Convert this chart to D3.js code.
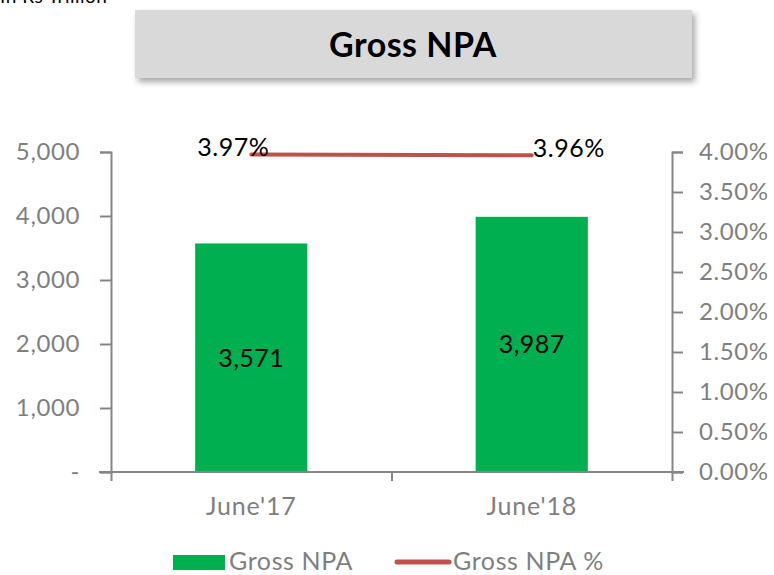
<!DOCTYPE html>
<html>
<head>
<meta charset="utf-8">
<script src="https://cdn.jsdelivr.net/npm/d3@7"></script>
<style>
  body { margin: 0; background: #fff; }
  svg { display: block; font-family: "Lato", "DejaVu Sans", sans-serif; }
</style>
</head>
<body>
<div id="chart"></div>
<script>
var categories = ["June'17", "June'18"];
var grossNpa = [3571, 3987];
var grossNpaPct = [0.0397, 0.0396];
var leftTicks = [0, 1000, 2000, 3000, 4000, 5000];
var rightTicks = [0, 0.005, 0.01, 0.015, 0.02, 0.025, 0.03, 0.035, 0.04];

var width = 774, height = 575;
var margin = { top: 152, right: 102, bottom: 103, left: 111 };
var innerW = width - margin.left - margin.right;
var innerH = height - margin.top - margin.bottom;

var font = '"Lato", "DejaVu Sans", sans-serif';

var svg = d3.select('#chart').append('svg')
    .attr('width', width)
    .attr('height', height);

// drop shadow for title box
var defs = svg.append('defs');
var filter = defs.append('filter').attr('id', 'shadow')
    .attr('x', '-10%').attr('y', '-20%').attr('width', '120%').attr('height', '160%');
filter.append('feDropShadow')
    .attr('dx', 3).attr('dy', 4).attr('stdDeviation', 3)
    .attr('flood-color', '#000').attr('flood-opacity', 0.35);

// unit note, cut at the top edge
svg.append('text')
    .attr('x', 0).attr('y', 3)
    .style('font-size', '19px')
    .style('letter-spacing', '0.5px')
    .style('fill', '#000')
    .text('In Rs Trillion');

// title box
svg.append('rect')
    .attr('x', 135).attr('y', 10)
    .attr('width', 557).attr('height', 68)
    .attr('fill', '#d9d9d9')
    .attr('filter', 'url(#shadow)');
svg.append('text')
    .attr('x', 413).attr('y', 57)
    .attr('text-anchor', 'middle')
    .style('font-size', '34px')
    .style('font-weight', 'bold')
    .style('letter-spacing', '0.5px')
    .style('fill', '#000')
    .text('Gross NPA');

var g = svg.append('g')
    .attr('transform', 'translate(' + margin.left + ',' + margin.top + ')');

var x = d3.scaleBand()
    .domain(categories)
    .range([0, innerW])
    .paddingInner(0.6)
    .paddingOuter(0.3);
var y = d3.scaleLinear().domain([0, 5000]).range([innerH, 0]);
var y2 = d3.scaleLinear().domain([0, 0.04]).range([innerH, 0]);

var axisColor = '#868686';
var labelColor = '#7f7f7f';

// bars
g.selectAll('.bar')
    .data(grossNpa)
    .enter().append('rect')
    .attr('class', 'bar')
    .attr('x', function (d, i) { return x(categories[i]); })
    .attr('width', x.bandwidth())
    .attr('y', function (d) { return y(d); })
    .attr('height', function (d) { return innerH - y(d); })
    .attr('fill', '#00b050');

// left axis
var leftAxis = g.append('g')
    .call(d3.axisLeft(y).tickValues(leftTicks).tickSize(11).tickPadding(20)
        .tickFormat(function (d) { return d === 0 ? '-' : d3.format(',')(d); }));

// right axis
var rightAxis = g.append('g')
    .attr('transform', 'translate(' + innerW + ',0)')
    .call(d3.axisRight(y2).tickValues(rightTicks).tickSize(11).tickPadding(16)
        .tickFormat(d3.format('.2%')));

// x axis
var xAxis = g.append('g')
    .attr('transform', 'translate(0,' + innerH + ')')
    .call(d3.axisBottom(d3.scaleLinear().domain([0, 2]).range([0, innerW]))
        .tickValues([0, 1, 2]).tickSize(9).tickFormat(''));
xAxis.select('.domain').attr('d', 'M-12,0H' + (innerW + 12));

[leftAxis, rightAxis, xAxis].forEach(function (a) {
    a.select('.domain').attr('stroke', axisColor).attr('stroke-width', 2);
    a.selectAll('.tick line').attr('stroke', axisColor).attr('stroke-width', 2);
    a.selectAll('.tick text')
        .style('font-size', '24px')
        .style('letter-spacing', '0.6px')
        .style('font-family', font)
        .attr('fill', labelColor);
});

// category labels
g.selectAll('.cat')
    .data(categories)
    .enter().append('text')
    .attr('class', 'cat')
    .attr('x', function (d) { return x(d) + x.bandwidth() / 2; })
    .attr('y', innerH + 43)
    .attr('text-anchor', 'middle')
    .style('font-size', '25px')
    .style('letter-spacing', '0.8px')
    .style('fill', labelColor)
    .text(function (d) { return d; });

// bar value labels
g.selectAll('.val')
    .data(grossNpa)
    .enter().append('text')
    .attr('class', 'val')
    .attr('x', function (d, i) { return x(categories[i]) + x.bandwidth() / 2; })
    .attr('y', function (d) { return y(d / 2) + 9; })
    .attr('text-anchor', 'middle')
    .style('font-size', '25px')
    .style('letter-spacing', '0.5px')
    .style('fill', '#000')
    .text(function (d) { return d3.format(',')(d); });

// line
var line = d3.line()
    .x(function (d, i) { return x(categories[i]) + x.bandwidth() / 2; })
    .y(function (d) { return y2(d); });
g.append('path')
    .datum(grossNpaPct)
    .attr('d', line)
    .attr('fill', 'none')
    .attr('stroke', '#c0504d')
    .attr('stroke-width', 4)
    .attr('stroke-linecap', 'round');

g.selectAll('.pct')
    .data(grossNpaPct)
    .enter().append('text')
    .attr('class', 'pct')
    .attr('x', function (d, i) {
        var cx = x(categories[i]) + x.bandwidth() / 2;
        return i === 0 ? cx - 18 : cx + 37;
    })
    .attr('y', function (d) { return y2(d) + 2; })
    .attr('text-anchor', 'middle')
    .style('font-size', '25px')
    .style('letter-spacing', '0.5px')
    .style('fill', '#000')
    .text(function (d) { return d3.format('.2%')(d); });

// legend
var legend = svg.append('g');
legend.append('rect')
    .attr('x', 173).attr('y', 555).attr('width', 52).attr('height', 15)
    .attr('fill', '#00b050');
legend.append('text')
    .attr('x', 229).attr('y', 570)
    .style('font-size', '25px').style('letter-spacing', '0.6px')
    .style('fill', labelColor)
    .text('Gross NPA');
legend.append('line')
    .attr('x1', 397).attr('x2', 449).attr('y1', 562).attr('y2', 562)
    .attr('stroke', '#c0504d').attr('stroke-width', 5)
    .attr('stroke-linecap', 'round');
legend.append('text')
    .attr('x', 453).attr('y', 570)
    .style('font-size', '25px').style('letter-spacing', '0.6px')
    .style('fill', labelColor)
    .text('Gross NPA %');
</script>
</body>
</html>
